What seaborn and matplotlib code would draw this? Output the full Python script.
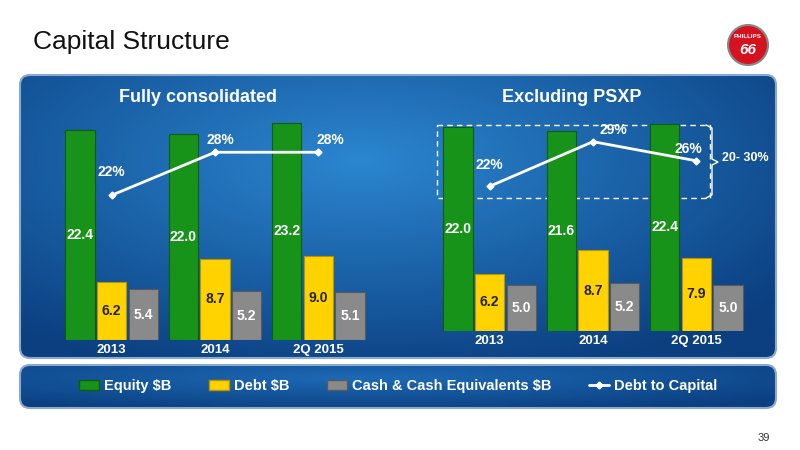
import numpy as np
import pandas as pd
import matplotlib
matplotlib.use("Agg")
import matplotlib.pyplot as plt
import seaborn as sns
from matplotlib.patches import FancyBboxPatch, Patch, Circle
from matplotlib.lines import Line2D

sns.set_theme(style="white")
plt.rcParams['font.family'] = ['Liberation Sans', 'DejaVu Sans']

periods = ["2013", "2014", "2Q 2015"]
series = ["Equity $B", "Debt $B", "Cash & Cash Equivalents $B"]
cons_equity = [22.4, 22.0, 23.2]
cons_debt = [6.2, 8.7, 9.0]
cons_cash = [5.4, 5.2, 5.1]
cons_ratio = [22, 28, 28]
ex_equity = [22.0, 21.6, 22.4]
ex_debt = [6.2, 8.7, 7.9]
ex_cash = [5.0, 5.2, 5.0]
ex_ratio = [22, 29, 26]
colors = ["#17931a", "#ffd200", "#8a8a8a"]
edges = ["#0c5e0e", "#b89500", "#5a5a5a"]
txtcol = ["white", "#222222", "white"]

W, H = 800, 450
fig = plt.figure(figsize=(8, 4.5), dpi=100)
fig.patch.set_facecolor("white")

def fx(px): return px / W
def fy(py): return 1 - py / H

bg = fig.add_axes([0, 0, 1, 1], zorder=0)
bg.set_xlim(0, W); bg.set_ylim(H, 0); bg.axis("off")
def gradient_panel(x0, y0, x1, y1, c_light, c_dark):
    yy, xx = np.mgrid[0:1:100j, 0:1:200j]
    d = np.clip(np.sqrt(((xx - 0.45) * 1.0) ** 2 + ((yy - 0.3) * 0.9) ** 2) * 1.4, 0, 1)
    cl = np.array(matplotlib.colors.to_rgb(c_light)); cd = np.array(matplotlib.colors.to_rgb(c_dark))
    img = cl[None, None, :] * (1 - d[..., None]) + cd[None, None, :] * d[..., None]
    im = bg.imshow(img, extent=[x0, x1, y1, y0], aspect="auto", zorder=1)
    p = FancyBboxPatch((x0, y0), x1 - x0, y1 - y0, boxstyle="round,pad=0,rounding_size=10",
                       transform=bg.transData, facecolor="none", edgecolor="#8aa9cf", lw=1.5, zorder=2)
    bg.add_patch(p)
    im.set_clip_path(p)
gradient_panel(20, 75, 776, 358, "#2b86d0", "#0b3f80")
gradient_panel(20, 365, 776, 408, "#1d6ab5", "#0b3f80")

fig.text(fx(33), fy(42), "Capital Structure", fontsize=19, color="#111111", va="center")
fig.text(fx(770), fy(438), "39", fontsize=8, color="#333333", ha="right", va="center")
bg.add_patch(Circle((748, 45), 20, facecolor="#d6121f", edgecolor="#888888", lw=1.5, zorder=3))
bg.text(748, 36, "PHILLIPS", fontsize=4.5, color="white", ha="center", va="center", weight="bold", zorder=4)
bg.text(748, 50, "66", fontsize=11, color="white", ha="center", va="center", weight="bold", style="italic", zorder=4)

fig.text(fx(198), fy(98), "Fully consolidated", fontsize=13, color="white", weight="bold", ha="center", va="center")
fig.text(fx(572), fy(98), "Excluding PSXP", fontsize=13, color="white", weight="bold", ha="center", va="center")

def panel(x0, x1, ybot, ytop, ymax, eq, de, ca, ratio, rlim, lab_off):
    ax = fig.add_axes([fx(x0), fy(ybot), fx(x1) - fx(x0), (ybot - ytop) / H], zorder=5)
    df = pd.DataFrame({"period": periods * 3,
                       "series": sum([[s] * 3 for s in series], []),
                       "value": eq + de + ca})
    sns.barplot(data=df, x="period", y="value", hue="series", palette=colors,
                width=0.92, gap=0.08, ax=ax, legend=False, saturation=1)
    for i, cont in enumerate(ax.containers):
        for b in cont:
            b.set_edgecolor(edges[i]); b.set_linewidth(0.8)
            h = b.get_height()
            ax.text(b.get_x() + b.get_width() / 2, h / 2, f"{h:.1f}", ha="center", va="center",
                    color=txtcol[i], fontsize=10, weight="bold")
    ax.set_ylim(0, ymax); ax.set_xlim(-0.5, 2.5)
    ax.set_facecolor("none")
    for s in ax.spines.values(): s.set_visible(False)
    ax.set_yticks([]); ax.set_xlabel(""); ax.set_ylabel("")
    ax.tick_params(axis="x", colors="white", length=0, pad=3)
    for t in ax.get_xticklabels(): t.set_fontweight("bold"); t.set_fontsize(9.5)
    ax2 = ax.twinx()
    ax2.plot(range(3), ratio, color="white", lw=2, marker="D", ms=3.5)
    ax2.set_ylim(*rlim)
    for i, r in enumerate(ratio):
        dx, dy = lab_off[i]
        ax2.text(i + dx, r + dy, f"{r}%", ha="center", va="bottom",
                 color="white", fontsize=10, weight="bold")
    ax2.axis("off")
    return ax

panel(60, 370, 340, 120, 23.5, cons_equity, cons_debt, cons_cash, cons_ratio, (1.8, 32.5),
      [(0.0, 2.2), (0.05, 0.8), (0.12, 0.8)])
panel(438, 748, 331, 120, 22.8, ex_equity, ex_debt, ex_cash, ex_ratio, (-0.7, 32.4),
      [(0.0, 2.2), (0.2, 0.8), (-0.08, 0.8)])

bg.add_patch(matplotlib.patches.Rectangle((437, 125), 273, 73, fill=False, edgecolor="white",
                                          lw=1, ls=(0, (4, 3)), zorder=6))
bg.plot([706, 712, 712, 718, 712, 712, 706], [125, 128, 159, 162, 165, 195, 198], color="white", lw=1, zorder=6)
bg.text(722, 158, "20- 30%", color="white", fontsize=9, weight="bold", va="center", zorder=6)

handles = [Patch(facecolor=c, edgecolor=e) for c, e in zip(colors, edges)] + \
          [Line2D([0], [0], color="white", lw=2, marker="D", ms=3.5)]
lab = series + ["Debt to Capital"]
leg = fig.legend(handles, lab, loc="center", bbox_to_anchor=(fx(398), fy(386)), ncol=4,
                 frameon=False, fontsize=10.5, handlelength=1.4, handletextpad=0.3, columnspacing=2.6)
for t in leg.get_texts(): t.set_color("white"); t.set_fontweight("bold")

fig.savefig("out.png", dpi=100)
